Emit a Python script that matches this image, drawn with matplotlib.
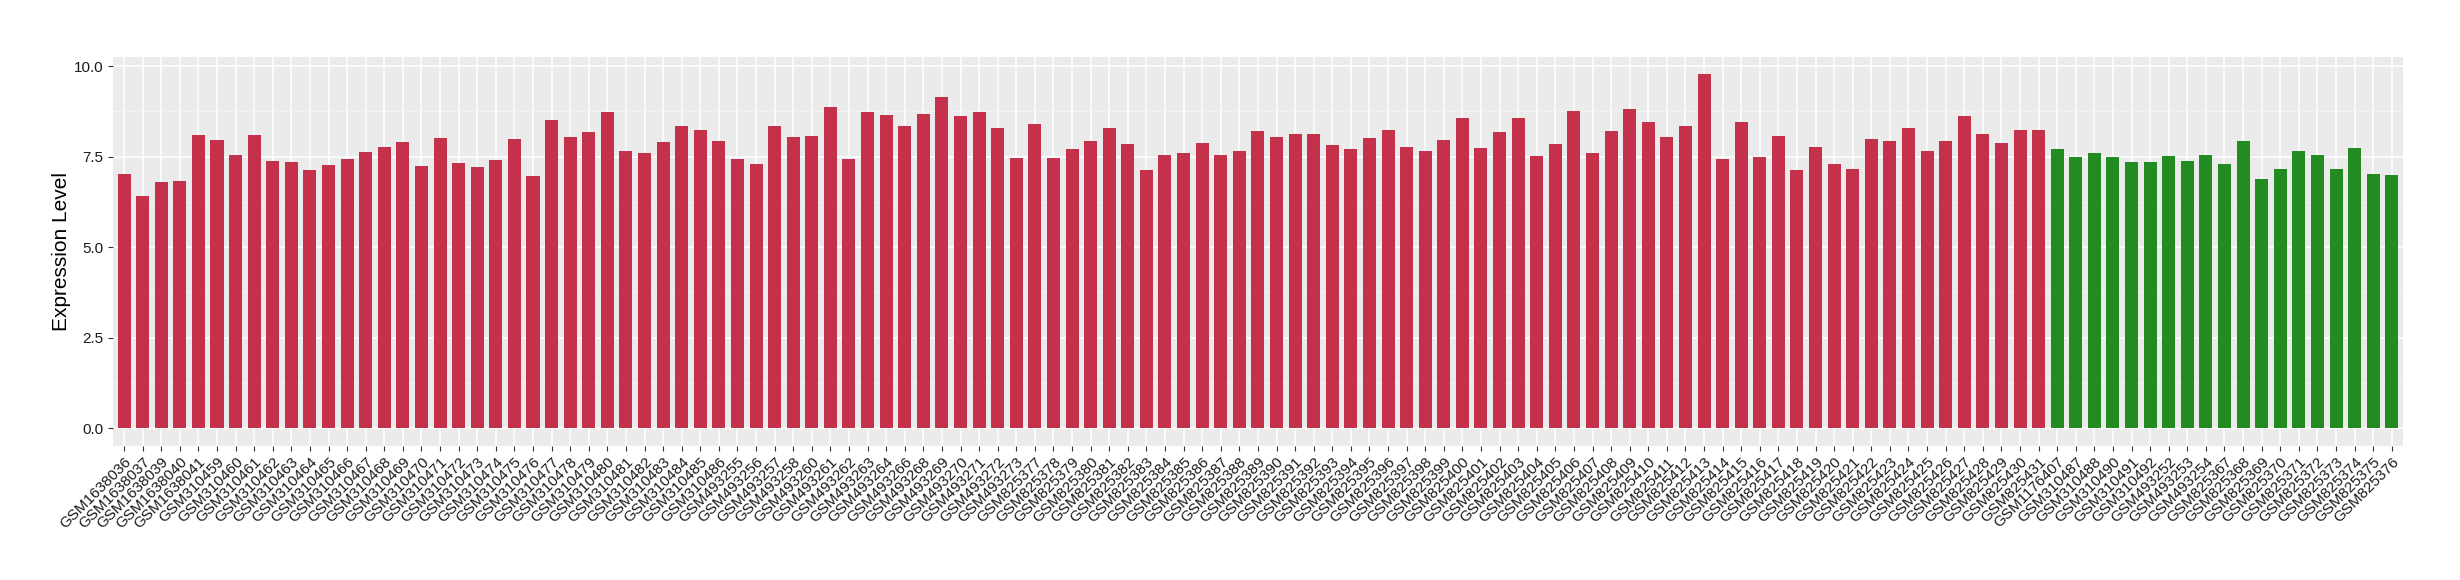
import matplotlib
matplotlib.use('Agg')
import matplotlib.pyplot as plt
from matplotlib.ticker import MultipleLocator
import numpy as np

plt.rcParams.update({
    'font.family': ['Liberation Sans', 'DejaVu Sans'],
})

RED = '#C4314A'
GREEN = '#228B22'
PANEL = '#EBEBEB'

# ── data ────────────────────────────────────────────────────────────────
tumor_samples = (
    ['GSM1638036', 'GSM1638037', 'GSM1638039', 'GSM1638040', 'GSM1638041']
    + ['GSM%d' % i for i in range(310459, 310487)]
    + ['GSM%d' % i for i in [493255, 493256, 493257, 493258, 493260, 493261,
                             493262, 493263, 493264, 493266, 493268, 493269,
                             493270, 493271, 493272, 493273]]
    + ['GSM%d' % i for i in range(825377, 825432)]
)
tumor_values = [
    7.01, 6.42, 6.79, 6.82, 8.09,
    7.95, 7.56, 8.09, 7.37, 7.34, 7.12, 7.26, 7.43, 7.62, 7.76, 7.90, 7.23,
    8.01, 7.32, 7.21, 7.40, 7.98, 6.96, 8.50, 8.03, 8.17, 8.72, 7.65, 7.59,
    7.90, 8.34, 8.25, 7.92,
    7.43, 7.29, 8.36, 8.03, 8.06, 8.86, 7.43, 8.72, 8.64, 8.34, 8.67, 9.16,
    8.61, 8.72, 8.28, 7.45,
    8.39, 7.45, 7.70, 7.92, 8.28, 7.84, 7.12, 7.56, 7.59, 7.87,
    7.56, 7.65, 8.20, 8.03, 8.14, 8.12, 7.81, 7.70, 8.01, 8.25,
    7.76, 7.67, 7.95, 8.56, 7.73, 8.17, 8.56, 7.51, 7.84, 8.75,
    7.59, 8.20, 8.83, 8.45, 8.03, 8.34, 9.77, 7.43, 8.47, 7.48,
    8.06, 7.12, 7.78, 7.29, 7.15, 7.98, 7.92, 8.28, 7.67, 7.92,
    8.61, 8.14, 7.87, 8.23, 8.23,
]

normal_samples = (
    ['GSM1176407']
    + ['GSM%d' % i for i in [310487, 310488, 310490, 310491, 310492,
                             493252, 493253, 493254]]
    + ['GSM%d' % i for i in range(825367, 825377)]
)
normal_values = [
    7.70, 7.48, 7.59, 7.48, 7.34, 7.34, 7.51, 7.37, 7.54,
    7.29, 7.92, 6.88, 7.15, 7.67, 7.54, 7.15, 7.73, 7.01, 6.99,
]

samples = tumor_samples + normal_samples
values = tumor_values + normal_values
colors = [RED] * len(tumor_values) + [GREEN] * len(normal_values)

# ── figure ──────────────────────────────────────────────────────────────
fig = plt.figure(figsize=(24.6, 5.8), dpi=100)
ax = fig.add_axes([0.0459, 0.231, 0.9309, 0.6712])
ax.set_facecolor(PANEL)

x = np.arange(len(samples))
ax.bar(x, values, width=0.7, color=colors, zorder=3)

n = len(samples)
ax.set_xlim(-0.6, n - 1 + 0.6)
ax.set_ylim(-0.489, 10.26)

ax.yaxis.set_minor_locator(MultipleLocator(1.25))
ax.set_yticks(np.arange(0, 10.01, 2.5))
ax.set_yticklabels(['%.1f' % v for v in np.arange(0, 10.01, 2.5)])

ax.set_xticks(x)
ax.set_xticklabels(samples, rotation=45, ha='right', va='top',
                   rotation_mode='anchor', fontsize=11, color='#1a1a1a')

ax.grid(True, which='major', color='white', lw=1.1, zorder=0)
ax.grid(True, which='minor', axis='y', color='#F5F5F5', lw=0.6, zorder=0)
ax.set_axisbelow(True)

for s in ax.spines.values():
    s.set_visible(False)

ax.tick_params(axis='both', which='major', length=3.5, width=0.8,
               color='#333333')
ax.tick_params(axis='y', labelsize=11, labelcolor='#1a1a1a')
ax.tick_params(axis='x', pad=3)
ax.tick_params(which='minor', length=0)

ax.set_ylabel('Expression Level', fontsize=15, labelpad=2)

fig.savefig('out.png', dpi=100)
